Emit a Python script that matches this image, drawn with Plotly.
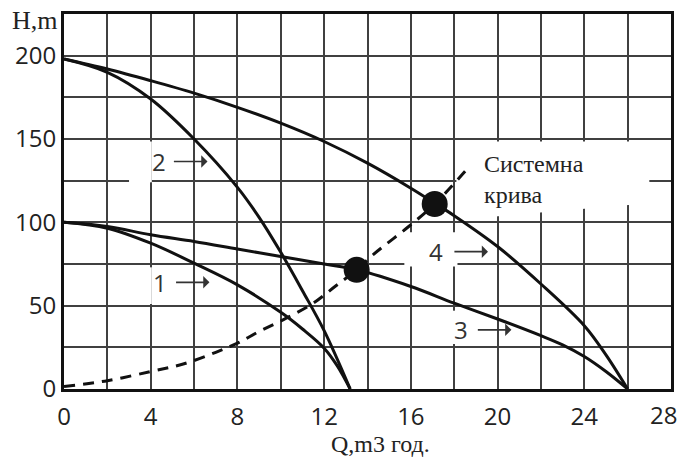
import plotly.graph_objects as go

# Pump curves H(Q): flow Q in m3/h, head H in m
q1 = [0, 2, 4, 6, 8, 10, 11, 12, 12.6, 13.2]
h1 = [100, 96.5, 87.5, 75.5, 62.5, 46, 36, 24.5, 14, 0]

q2 = [0, 2, 4, 6, 8, 9, 10, 11, 12, 13.2]
h2 = [198, 190, 174, 150, 121, 103, 82, 59, 35, 0]

q3 = [0, 2, 4, 6, 8, 10, 12, 13.5, 16, 18, 20, 22, 23, 24, 25, 26]
h3 = [100, 97.5, 92.5, 88.5, 84, 79.5, 75, 71.5, 61.5, 51.5, 42, 32, 26.5, 19.5, 10.5, 0]

q4 = [0, 2, 4, 6, 8, 10, 12, 14, 16, 17.1, 18, 20, 22, 24, 25, 26]
h4 = [198, 192, 185, 177.5, 169, 159.5, 148.5, 135.5, 120.5, 111.5, 104, 85.5, 63, 38, 20.5, 0]

# System curve
qs = [0, 2, 4, 5.5, 7, 8, 9, 10.25, 11.5, 12.5, 13.5, 14.25, 15.9, 17.1, 18.6]
hs = [1.5, 5, 10.5, 15, 22, 27.5, 34.5, 42.5, 51.5, 61.5, 71.5, 80.5, 97.5, 111, 132]

# Operating points
q_op = [13.5, 17.1]
h_op = [71.5, 111]

x_ticks = [0, 4, 8, 12, 16, 20, 24, 28]
y_ticks = [0, 50, 100, 150, 200]

LINE = dict(color="#111111", width=3, shape="spline", smoothing=1)

fig = go.Figure()
for q, h in [(q1, h1), (q2, h2), (q3, h3), (q4, h4)]:
    fig.add_trace(go.Scatter(x=q, y=h, mode="lines", line=LINE, hoverinfo="skip"))
fig.add_trace(go.Scatter(x=qs, y=hs, mode="lines",
                         line=dict(color="#111111", width=3, dash="11px,8px",
                                   shape="spline", smoothing=1),
                         hoverinfo="skip"))
fig.add_trace(go.Scatter(x=q_op, y=h_op, mode="markers",
                         marker=dict(size=26, color="#111111"), hoverinfo="skip"))

# White patches behind the labels that interrupt the grid
white = dict(type="rect", xref="x", yref="y", fillcolor="white",
             line=dict(width=0), layer="between")
shapes = [
    dict(white, x0=3.0, x1=4.05, y0=124, y1=148.5),
    dict(white, x0=3.6, x1=4.05, y0=51, y1=73),
    dict(white, x0=15.7, x1=18.15, y0=73.5, y1=94),
    dict(white, x0=17.6, x1=18.4, y0=27, y1=47),
    dict(type="path", xref="x", yref="y", fillcolor="white", line=dict(width=0),
         layer="between",
         path="M 18.1 148.5 L 27.0 148.5 L 27.0 111.5 L 18.1 101.5 Z"),
]

grid = "#404040"
tick_font = dict(family="Open Sans", size=24, color="#222222")
fig.update_layout(
    width=680, height=458,
    margin=dict(l=64, r=9, t=14, b=69, autoexpand=False),
    plot_bgcolor="white", paper_bgcolor="white",
    showlegend=False,
    shapes=shapes,
    font=tick_font,
)
# The last x label sits against the right edge, so it is placed as an annotation
fig.update_xaxes(range=[0, 28], tickvals=x_ticks[:-1], showgrid=True, gridcolor=grid, gridwidth=2,
                 minor=dict(dtick=2, showgrid=True, gridcolor=grid, gridwidth=2),
                 zeroline=False, showline=True, linecolor="#111111", linewidth=3, mirror=True,
                 ticks="", ticklabelstandoff=4, automargin=False)
fig.update_yaxes(range=[0, 225], tickvals=y_ticks, showgrid=True, gridcolor=grid, gridwidth=2,
                 minor=dict(dtick=25, showgrid=True, gridcolor=grid, gridwidth=2),
                 zeroline=False, showline=True, linecolor="#111111", linewidth=3, mirror=True,
                 ticks="", ticklabelstandoff=0, automargin=False)
fig.add_annotation(x=x_ticks[-1], xref="x", y=0, yref="paper", text=str(x_ticks[-1]),
                   showarrow=False, xanchor="center", yanchor="middle",
                   xshift=-8, yshift=-25, font=tick_font)

serif = dict(family="Liberation Serif", size=26, color="#222222")
labels = [
    ("1", 4.41, 64, 5.1, 6.71),
    ("2", 4.36, 136.5, 5.0, 6.62),
    ("3", 18.33, 35.5, 19.02, 20.64),
    ("4", 17.18, 82.4, 17.94, 19.56),
]
for txt, xl, yl, xa0, xa1 in labels:
    fig.add_annotation(x=xl, y=yl, text=txt, showarrow=False,
                       font=dict(family="Open Sans", size=24, color="#333333"))
    fig.add_annotation(x=xa1, y=yl, ax=xa0, ay=yl, axref="x", ayref="y", text="",
                       showarrow=True, arrowhead=1, arrowsize=1.3, arrowwidth=1.6,
                       arrowcolor="#333333")

fig.add_annotation(x=19.3, y=126, text="Системна<br>крива", showarrow=False,
                   xanchor="left", yanchor="middle", align="left", font=dict(serif, size=24))
fig.add_annotation(xref="paper", yref="paper", x=-0.048, y=0.984, text="H,m",
                   showarrow=False, xanchor="center", yanchor="middle", font=serif)
fig.add_annotation(xref="paper", yref="paper", x=0.521, y=-0.146, text="Q,m3 год.",
                   showarrow=False, xanchor="center", yanchor="middle", font=dict(serif, size=24))

fig.write_html("out.html")
